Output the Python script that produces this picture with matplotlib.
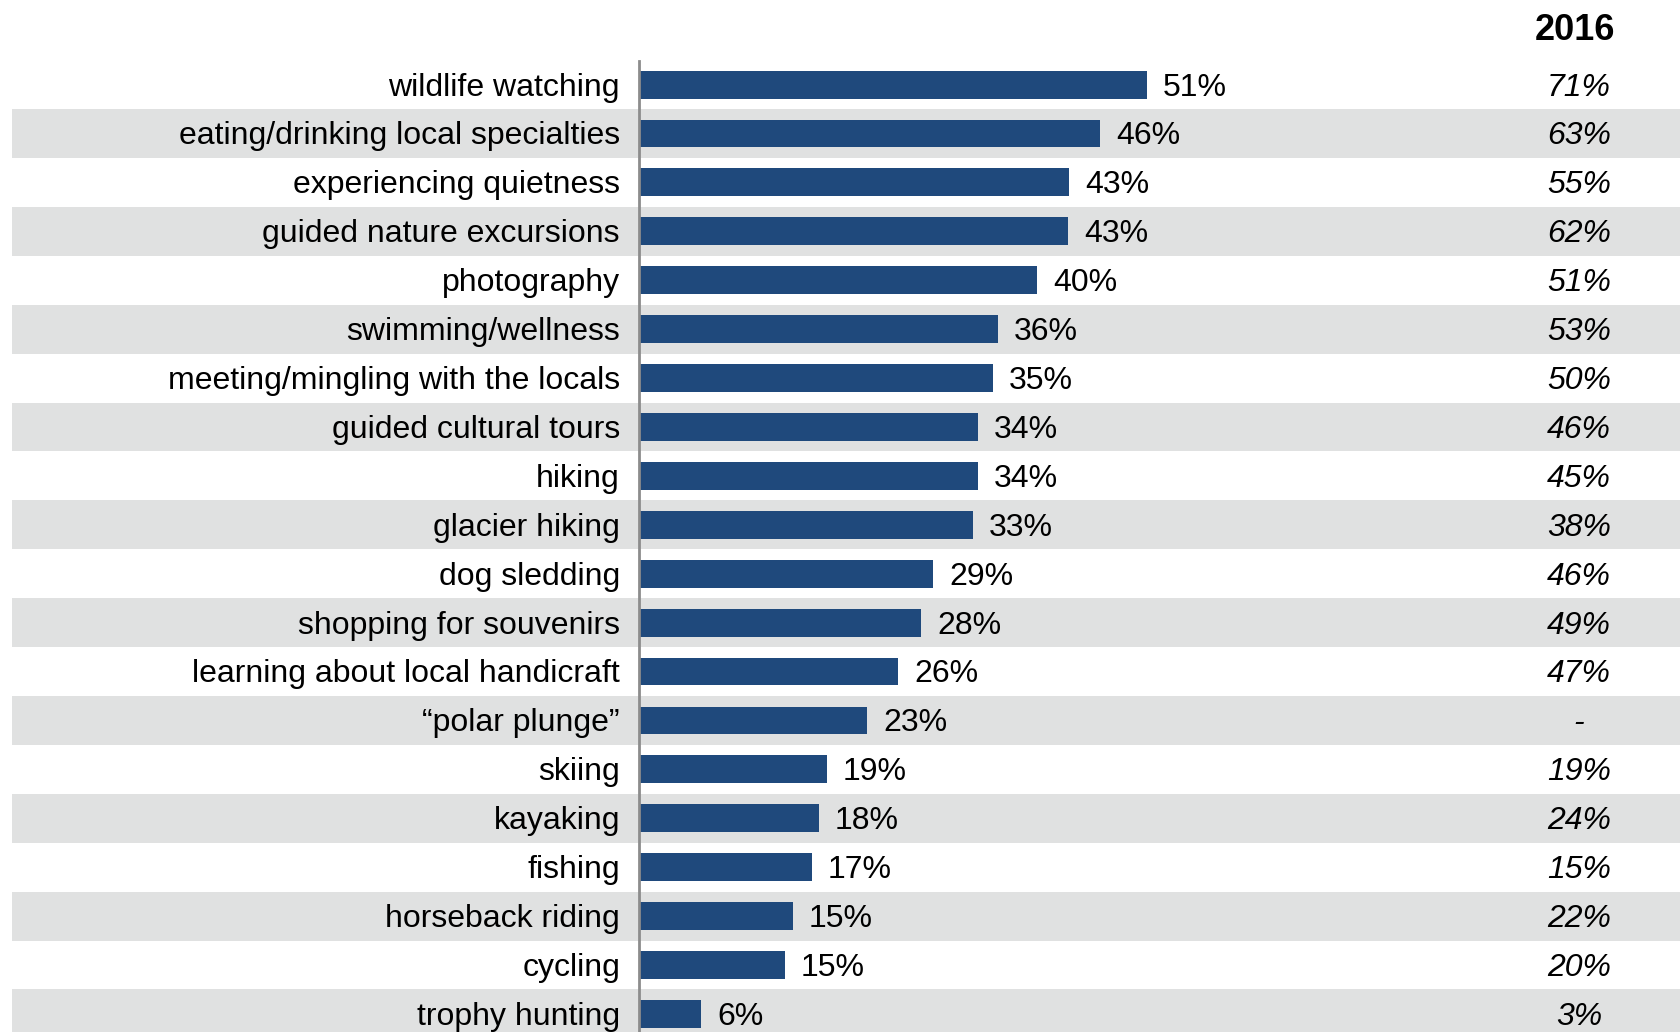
import matplotlib.pyplot as plt
import numpy as np

plt.rcParams['font.family'] = ['Liberation Sans', 'DejaVu Sans']

# data
activities = ['wildlife watching', 'eating/drinking local specialties', 'experiencing quietness',
              'guided nature excursions', 'photography', 'swimming/wellness',
              'meeting/mingling with the locals', 'guided cultural tours', 'hiking',
              'glacier hiking', 'dog sledding', 'shopping for souvenirs',
              'learning about local handicraft', '\u201cpolar plunge\u201d', 'skiing', 'kayaking',
              'fishing', 'horseback riding', 'cycling', 'trophy hunting']
share_now = [50.8, 46.1, 43.0, 42.9, 39.8, 35.9, 35.4, 33.9, 33.9, 33.4,
             29.4, 28.2, 25.9, 22.8, 18.8, 18.0, 17.3, 15.4, 14.6, 6.2]
share_2016 = ['71%', '63%', '55%', '62%', '51%', '53%', '50%', '46%', '45%', '38%',
              '46%', '49%', '47%', '-', '19%', '24%', '15%', '22%', '20%', '3%']
col_title = '2016'

bar_color = '#1f497c'
band_color = '#e0e1e1'
fs = 23
dy = 0.06  # text sits a little lower than the bar centre

fig = plt.figure(figsize=(16.8, 10.32), dpi=100)
ax = fig.add_axes([0, 0, 1, 1])
ax.set_xlim(-63.9, 104.1)
ax.set_ylim(19.37, -1.73)
ax.axis('off')

n = len(activities)
y = np.arange(n)

# grey bands on every second row
for i in range(1, n, 2):
    ax.axhspan(i - 0.5, i + 0.5, xmin=12 / 1680, xmax=1, color=band_color, lw=0, zorder=0)

ax.barh(y, share_now, height=0.57, color=bar_color, zorder=2)
ax.plot([0, 0], [-0.48, 19.37], color='#8c8c8c', lw=2, zorder=3)

for i in range(n):
    ax.text(-1.9, y[i] + dy, activities[i], ha='right', va='center', fontsize=fs)
    ax.text(share_now[i] + 1.6, y[i] + dy, f'{share_now[i]:.0f}%', ha='left', va='center', fontsize=fs)
    ax.text(94.0, y[i] + dy, share_2016[i], ha='center', va='center', fontsize=fs, style='italic')

ax.text(97.6, -1.1, col_title, ha='right', va='center', fontsize=26, fontweight='bold')

fig.savefig('out.png', dpi=100)
